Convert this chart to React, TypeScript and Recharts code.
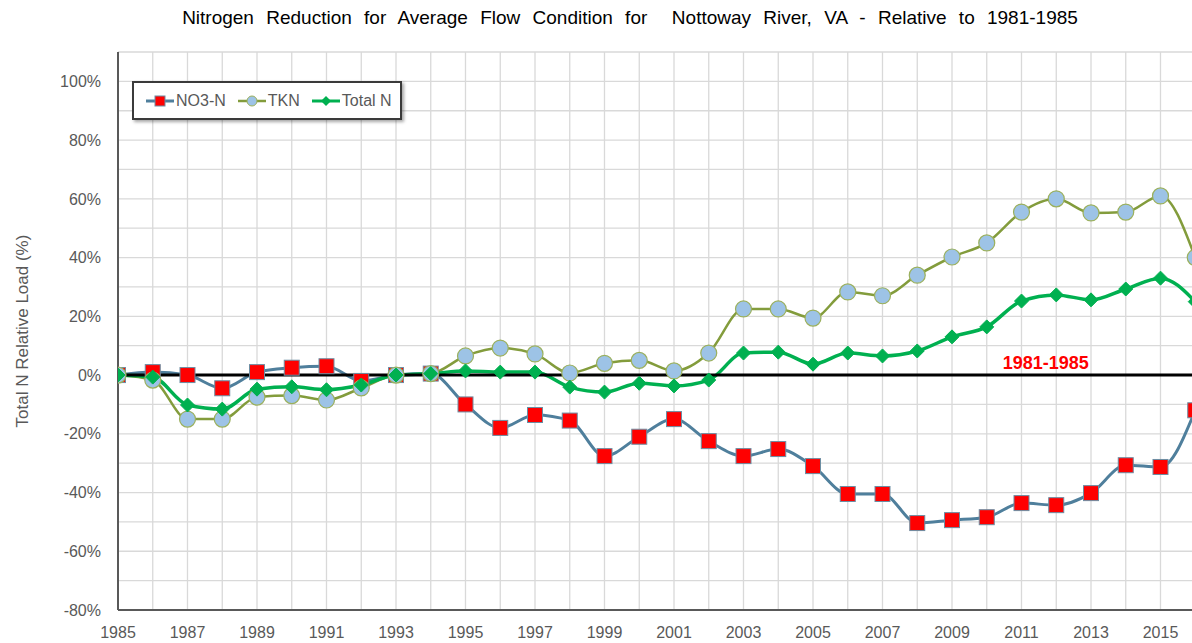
import * as React from "react"
import {
  LineChart,
  Line,
  XAxis,
  YAxis,
  CartesianGrid,
  ReferenceLine,
  ReferenceDot
} from "recharts"

const years = [
  1985, 1986, 1987, 1988, 1989, 1990, 1991, 1992, 1993, 1994, 1995,
  1996, 1997, 1998, 1999, 2000, 2001, 2002, 2003, 2004, 2005, 2006,
  2007, 2008, 2009, 2010, 2011, 2012, 2013, 2014, 2015, 2016
]

const no3 = [
  0, 1, 0, -4.5, 1, 2.5, 3, -2, 0, 0.5, -10,
  -18, -13.6, -15.5, -27.6, -21, -15, -22.5, -27.6, -25.2, -31, -40.5,
  -40.5, -50.4, -49.4, -48.4, -43.6, -44.3, -40.2, -30.7, -31.3, -12
]

const tkn = [
  0, -1.7, -15, -15, -7.5, -7, -8.5, -4.4, 0, 0.5, 6.5,
  9.2, 7.2, 0.7, 4, 5, 1.4, 7.5, 22.5, 22.5, 19.4, 28.3,
  27, 34, 40.2, 45, 55.5, 60, 55.2, 55.5, 61, 40
]

const totalN = [
  0, -0.7, -10.2, -11.6, -4.8, -4, -5, -3.4, 0, 0.5, 1.4,
  1, 1, -4.1, -5.8, -2.8, -3.7, -1.7, 7.5, 7.8, 3.7, 7.5,
  6.5, 8.2, 13, 16.4, 25.2, 27.3, 25.6, 29.3, 33, 25
]

const xTicks = [
  1985, 1987, 1989, 1991, 1993, 1995, 1997, 1999, 2001, 2003, 2005,
  2007, 2009, 2011, 2013, 2015
]
const yTicks = [-80, -60, -40, -20, 0, 20, 40, 60, 80, 100]
const xGrid = [...years, 2017]
const yGrid = [-80, -70, -60, -50, -40, -30, -20, -10, 0, 10, 20, 30, 40, 50, 60, 70, 80, 90, 100, 110]

const X_DOMAIN: [number, number] = [1985, 2017]
const Y_DOMAIN: [number, number] = [-80, 110]

// where the baseline label sits
const baseLabel = { x: 2011.7, y: 4.4, text: "1981-1985" }

const data = years.map((year, i) => ({
  year,
  no3: no3[i],
  tkn: tkn[i],
  totalN: totalN[i]
}))

const font = "Arial, 'Liberation Sans', sans-serif"
const grey = "#595959"

const NO3_LINE = "#4f7f9c"
const TKN_LINE = "#839c3c"
const TN_LINE = "#00b050"

const applyScale = (scale: any, v: number) => {
  if (typeof scale === "function") return scale(v)
  if (scale && typeof scale.map === "function") return scale.map(v)
  return NaN
}

const SquareDot = (props: any) => {
  const { cx, cy, index } = props
  if (cx == null || cy == null) return <g key={index} />
  return (
    <rect key={index} x={cx - 7.5} y={cy - 7.5} width={15} height={15}
      fill="#ff0000" stroke="#6c8ea3" strokeWidth={1} />
  )
}

const CircleDot = (props: any) => {
  const { cx, cy, index } = props
  if (cx == null || cy == null) return <g key={index} />
  return (
    <circle key={index} cx={cx} cy={cy} r={8}
      fill="#9dc3e6" stroke="#9bb05c" strokeWidth={1.2} />
  )
}

const DiamondDot = (props: any) => {
  const { cx, cy, index } = props
  if (cx == null || cy == null) return <g key={index} />
  const s = 7
  return (
    <polygon key={index}
      points={`${cx},${cy - s} ${cx + s},${cy} ${cx},${cy + s} ${cx - s},${cy}`}
      fill={TN_LINE} stroke={TN_LINE} strokeWidth={1} />
  )
}

const LegendBox = () => (
  <div style={{
    position: "absolute",
    left: 132,
    top: 81,
    width: 254,
    height: 35,
    border: "2px solid #3a3a3a",
    boxShadow: "2px 2px 3px rgba(0,0,0,0.35)",
    background: "white",
    display: "flex",
    alignItems: "center",
    fontFamily: font,
    fontSize: 16,
    color: grey,
    paddingLeft: 12,
    boxSizing: "content-box",
    whiteSpace: "nowrap"
  }}>
    <svg width={28} height={12} style={{ marginRight: 2 }}>
      <line x1={0} y1={6} x2={28} y2={6} stroke={NO3_LINE} strokeWidth={3} />
      <rect x={9} y={1} width={10} height={10} fill="#ff0000" stroke="#6c8ea3" />
    </svg>
    <span style={{ marginRight: 12 }}>NO3-N</span>
    <svg width={28} height={12} style={{ marginRight: 2 }}>
      <line x1={0} y1={6} x2={28} y2={6} stroke={TKN_LINE} strokeWidth={2.5} />
      <circle cx={14} cy={6} r={5} fill="#9dc3e6" stroke="#9bb05c" />
    </svg>
    <span style={{ marginRight: 12 }}>TKN</span>
    <svg width={28} height={12} style={{ marginRight: 2 }}>
      <line x1={0} y1={6} x2={28} y2={6} stroke={TN_LINE} strokeWidth={3} />
      <polygon points="14,1 19,6 14,11 9,6" fill={TN_LINE} />
    </svg>
    <span>Total N</span>
  </div>
)

export default function App() {
  return (
    <div style={{
      position: "absolute",
      left: 0,
      top: 0,
      width: 1192,
      height: 643,
      overflow: "hidden",
      background: "white"
    }}>
      <div style={{
        position: "absolute",
        left: 0,
        width: 1260,
        top: 7,
        textAlign: "center",
        fontFamily: font,
        fontSize: 19,
        wordSpacing: 7,
        color: "#000",
        whiteSpace: "nowrap"
      }}>
        Nitrogen Reduction for Average Flow Condition for&nbsp; Nottoway River, VA - Relative to 1981-1985
      </div>
      <LineChart
        width={1240}
        height={643}
        data={data}
        margin={{ top: 52, right: 10, bottom: 0, left: 0 }}
      >
        <CartesianGrid
          stroke="#d9d9d9"
          strokeWidth={1.3}
          horizontalCoordinatesGenerator={({ yAxis, offset }: any) =>
            yGrid.map((v) => {
              const p = applyScale(yAxis?.scale, v)
              return Number.isFinite(p)
                ? p
                : offset.top + (offset.height * (Y_DOMAIN[1] - v)) / (Y_DOMAIN[1] - Y_DOMAIN[0])
            })
          }
          verticalCoordinatesGenerator={({ xAxis, offset }: any) =>
            xGrid.map((v) => {
              const p = applyScale(xAxis?.scale, v)
              return Number.isFinite(p)
                ? p
                : offset.left + (offset.width * (v - X_DOMAIN[0])) / (X_DOMAIN[1] - X_DOMAIN[0])
            })
          }
        />
        <XAxis
          dataKey="year"
          type="number"
          domain={X_DOMAIN}
          ticks={xTicks}
          allowDataOverflow
          height={33}
          tickLine={false}
          axisLine={{ stroke: grey, strokeWidth: 2 }}
          tick={{ fill: grey, fontSize: 16, fontFamily: font }}
          tickMargin={11}
        />
        <YAxis
          type="number"
          domain={Y_DOMAIN}
          ticks={yTicks}
          allowDataOverflow
          width={118}
          tickLine={false}
          axisLine={{ stroke: grey, strokeWidth: 2 }}
          tickFormatter={(v: number) => `${v}%`}
          tick={{ fill: grey, fontSize: 16, fontFamily: font }}
          tickMargin={11}
          label={{
            value: "Total N Relative Load (%)",
            angle: -90,
            position: "insideLeft",
            offset: 22,
            style: { fill: grey, fontSize: 17, fontFamily: font, textAnchor: "middle" }
          }}
        />
        <Line
          type="monotone"
          dataKey="no3"
          name="NO3-N"
          stroke={NO3_LINE}
          strokeWidth={3}
          dot={SquareDot}
          activeDot={false}
          isAnimationActive={false}
        />
        <Line
          type="monotone"
          dataKey="tkn"
          name="TKN"
          stroke={TKN_LINE}
          strokeWidth={2.5}
          dot={CircleDot}
          activeDot={false}
          isAnimationActive={false}
        />
        <Line
          type="monotone"
          dataKey="totalN"
          name="Total N"
          stroke={TN_LINE}
          strokeWidth={3.5}
          dot={DiamondDot}
          activeDot={false}
          isAnimationActive={false}
        />
        <ReferenceLine y={0} stroke="#000" strokeWidth={3} />
        <ReferenceDot
          x={baseLabel.x}
          y={baseLabel.y}
          r={0}
          fill="none"
          stroke="none"
          label={{
            value: baseLabel.text,
            position: "center",
            fill: "#ff0000",
            fontWeight: "bold",
            fontSize: 18,
            fontFamily: font
          }}
        />
      </LineChart>
      <LegendBox />
    </div>
  )
}
